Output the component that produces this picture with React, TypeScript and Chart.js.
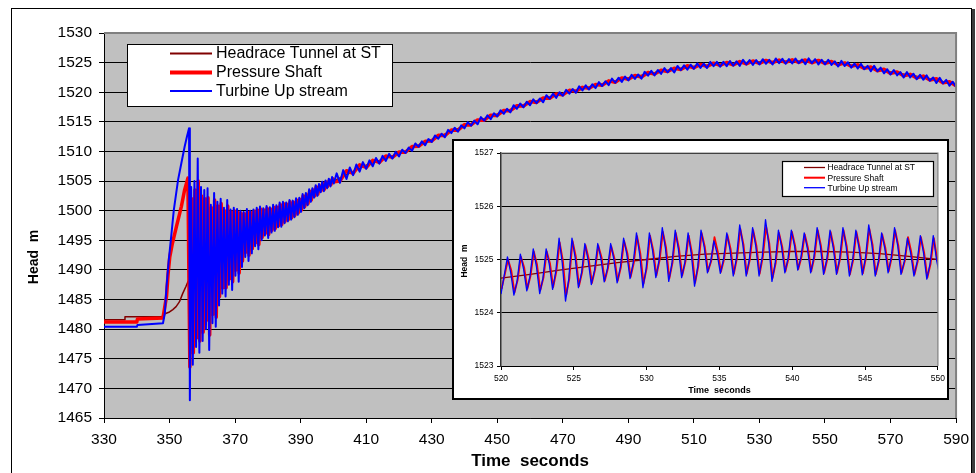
import React, { useEffect, useRef } from "react";
import { Chart, registerables } from "chart.js";

Chart.register(...registerables);

const FONT = "'Liberation Sans', Arial, Helvetica, sans-serif";

/* ---------------- shared ---------------- */
const seriesLabels = ["Headrace Tunnel at ST", "Pressure Shaft", "Turbine Up stream"];
const seriesColors = ["#800000", "#FF0000", "#0000FF"];
const xTitleText = "Time  seconds";
const yTitleText = "Head  m";

/* ---------------- main chart : 330 – 590 s ---------------- */
const mainTimeRange = [330, 590];
const mainTimeTickStep = 20;
const mainHeadRange = [1465, 1530];
const mainHeadTickStep = 5;

const headraceTime = [330, 336.2, 336.4, 347.6, 348.6, 350, 351, 352, 353, 354, 355, 355.6, 358, 360, 365, 370, 375, 380, 385, 390, 395, 400, 410, 420, 430, 440, 450, 460, 470, 480, 490, 500, 510, 520, 530, 540, 550, 560, 570, 580, 590];
const headraceHead = [1481.6, 1481.6, 1482.1, 1482.1, 1482.6, 1482.9, 1483.3, 1483.8, 1484.6, 1486.0, 1487.2, 1488.0, 1489.5, 1490.5, 1492.5, 1494, 1496, 1498, 1499.8, 1501.2, 1503.3, 1505.0, 1507.7, 1509.6, 1512.0, 1514.3, 1516.3, 1518.2, 1519.8, 1521.1, 1522.4, 1523.5, 1524.35, 1524.8, 1525.1, 1525.25, 1525.1, 1524.4, 1523.4, 1522.5, 1521.3];

const shaftRiseTime = [330, 340, 340.2, 348.0, 349.07, 349.57, 350.07, 350.88, 352.1, 353.6, 354.6, 355.6, 356.2];
const shaftRiseHead = [1481.2, 1481.2, 1481.7, 1481.9, 1485.5, 1489.4, 1492.2, 1494.5, 1497.3, 1500.7, 1503.5, 1505.5, 1473.6];

const turbineRiseTime = [330, 340, 340.2, 348.0, 348.55, 349.07, 349.77, 350.38, 351.3, 352.6, 353.6, 354.6, 355.3, 355.95, 356.2];
const turbineRiseHead = [1480.4, 1480.4, 1480.7, 1481.0, 1482.65, 1487.1, 1491.7, 1495.0, 1500.1, 1505.2, 1508.0, 1510.8, 1512.5, 1513.9, 1468.0];

// water-hammer oscillation after closure, sampled every 0.5 s
const surgeStep = 0.5;
const turbineSurgeStart = 356.6;
const turbineSurge = [
  1504, 1474, 1505, 1477, 1508.8, 1476, 1504, 1478, 1503.5, 1480,
  1503.8, 1476.5, 1501, 1481, 1503, 1480.4, 1501.5, 1484, 1502, 1486,
  1500.5, 1485.5, 1501.8, 1487.5, 1500.2, 1486.6, 1500.5, 1489, 1500.3, 1488,
  1500, 1490.5, 1499.8, 1492.2, 1500.3, 1491.5, 1500, 1492.8, 1500.2, 1494,
  1500.5, 1493.5, 1500.7, 1495, 1500.4, 1495.8, 1500.8, 1495.4, 1500.6, 1496.3,
  1501, 1496.6, 1500.9, 1497.2, 1501.4, 1497.3, 1501.5, 1497.9, 1501.4, 1498.2,
  1501.8, 1498.5, 1501.7, 1498.9, 1502.1, 1499.3, 1502.2, 1499.8, 1502.8, 1500.4,
  1503, 1500.9, 1503.6, 1501.5, 1503.8, 1502.2, 1504.3, 1502.5, 1504.5, 1503.1,
  1504.9, 1503.3, 1505.1, 1503.8, 1505.4, 1504.1, 1505.7, 1504.6,
];
const shaftSurgeStart = 356.75;
const shaftSurge = [
  1502, 1476, 1503.5, 1478.5, 1505, 1478, 1502.5, 1479.5, 1502, 1481.5,
  1502.2, 1479, 1500.5, 1482.5, 1501.8, 1482, 1500.8, 1485.5, 1501.2, 1487,
  1500, 1487, 1500.8, 1488.5, 1499.8, 1488, 1500, 1490, 1499.8, 1489.5,
  1499.6, 1491.5, 1499.5, 1493, 1499.8, 1492.5, 1499.7, 1493.6, 1499.9, 1494.6,
  1500.1, 1494.3, 1500.3, 1495.5, 1500.1, 1496.2, 1500.4, 1496, 1500.3, 1496.7,
  1500.6, 1497, 1500.6, 1497.5, 1501, 1497.7, 1501.2, 1498.2, 1501.1, 1498.5,
  1501.5, 1498.8, 1501.4, 1499.2, 1501.8, 1499.6, 1501.9, 1500.1, 1502.5, 1500.7,
  1502.7, 1501.2, 1503.3, 1501.8, 1503.5, 1502.5, 1504, 1502.8, 1504.2, 1503.4,
  1504.6, 1503.6, 1504.8, 1504.1, 1505.1, 1504.4, 1505.4, 1504.9,
];

// slow mass oscillation: turbine sampled every 1 s from 401 s
const turbineTailStart = 401;
const turbineTailStep = 1;
const turbineTail = [
  1506.3, 1504.7, 1506.85, 1505.35, 1507.3, 1506.0, 1507.8, 1506.6, 1508.2, 1507.05,
  1508.5, 1507.5, 1508.9, 1507.95, 1509.25, 1508.4, 1509.6, 1508.8, 1509.95, 1509.15,
  1510.3, 1509.75, 1510.65, 1510.1, 1511.35, 1510.8, 1511.7, 1511.05, 1512.1, 1511.6,
  1512.7, 1512.15, 1513.0, 1512.4, 1513.65, 1513.1, 1514.0, 1513.35, 1514.4, 1513.9,
  1514.95, 1514.35, 1515.2, 1514.6, 1515.8, 1515.2, 1516.1, 1515.45, 1516.45, 1515.9,
  1516.95, 1516.35, 1517.2, 1516.6, 1517.8, 1517.2, 1518.1, 1517.45, 1518.4, 1517.8,
  1518.8, 1518.15, 1518.95, 1518.3, 1519.5, 1518.9, 1519.75, 1519.05, 1520.0, 1519.4,
  1520.4, 1519.75, 1520.55, 1519.9, 1521.0, 1520.3, 1521.15, 1520.45, 1521.35, 1520.7,
  1521.7, 1521.05, 1521.85, 1521.2, 1522.3, 1521.6, 1522.45, 1521.75, 1522.65, 1522.0,
  1522.95, 1522.25, 1523.0, 1522.3, 1523.45, 1522.8, 1523.6, 1522.85, 1523.75, 1523.1,
  1524.07, 1523.37, 1524.08, 1523.33, 1524.44, 1523.74, 1524.55, 1523.8, 1524.65, 1523.95,
  1524.86, 1524.11, 1524.82, 1524.08, 1525.13, 1524.39, 1525.12, 1524.3, 1525.13, 1524.4,
  1525.28, 1524.5, 1525.2, 1524.45, 1525.48, 1524.7, 1525.43, 1524.6, 1525.43, 1524.7,
  1525.58, 1524.8, 1525.48, 1524.7, 1525.7, 1524.9, 1525.63, 1524.8, 1525.6, 1524.85,
  1525.7, 1524.9, 1525.53, 1524.72, 1525.71, 1524.9, 1525.58, 1524.7, 1525.48, 1524.7,
  1525.48, 1524.62, 1525.21, 1524.35, 1525.29, 1524.43, 1525.07, 1524.16, 1524.85, 1524.0,
  1524.78, 1523.9, 1524.45, 1523.55, 1524.45, 1523.55, 1524.15, 1523.2, 1523.88, 1523.0,
  1523.75, 1522.85, 1523.4, 1522.5, 1523.4, 1522.5, 1523.13, 1522.2, 1522.93, 1522.1,
  1522.85, 1521.95, 1522.48, 1521.55, 1522.43, 1521.5, 1522.08, 1521.1, 1521.78, 1520.9,
];
// pressure shaft sampled every 2 s from 402 s
const shaftTailStart = 402;
const shaftTailStep = 2;
const shaftTail = [
  1505.0, 1506.75, 1506.3, 1507.75, 1507.3, 1508.5, 1508.15, 1509.25, 1509.0, 1509.9,
  1509.88, 1510.82, 1510.88, 1511.72, 1511.78, 1512.72, 1512.68, 1513.62, 1513.58, 1514.52,
  1514.48, 1515.32, 1515.28, 1516.12, 1516.08, 1516.92, 1516.88, 1517.72, 1517.68, 1518.42,
  1518.28, 1519.02, 1518.98, 1519.72, 1519.58, 1520.32, 1520.18, 1520.82, 1520.68, 1521.32,
  1521.18, 1521.92, 1521.68, 1522.42, 1522.18, 1522.82, 1522.58, 1523.32, 1523.08, 1523.72,
  1523.5, 1524.05, 1523.82, 1524.47, 1524.13, 1524.68, 1524.36, 1524.91, 1524.53, 1525.02,
  1524.63, 1525.17, 1524.78, 1525.27, 1524.88, 1525.37, 1524.98, 1525.42, 1525.03, 1525.47,
  1525.03, 1525.44, 1524.98, 1525.37, 1524.88, 1525.19, 1524.63, 1524.95, 1524.39, 1524.62,
  1524.03, 1524.27, 1523.63, 1523.87, 1523.18, 1523.42, 1522.78, 1523.02, 1522.43, 1522.72,
  1522.08, 1522.27, 1521.58, 1521.77, 1521.08,
];

/* ---------------- inset chart : 520 – 550 s ---------------- */
const insetTimeRange = [520, 550];
const insetTimeTickStep = 5;
const insetHeadRange = [1523, 1527];
const insetHeadTickStep = 1;

const insetHeadraceTime = [520, 522, 524, 526, 528, 530, 532, 534, 536, 538, 540, 542, 544, 546, 548, 550];
const insetHeadraceHead = [1524.65, 1524.72, 1524.8, 1524.87, 1524.94, 1525.0, 1525.06, 1525.1, 1525.12, 1525.14, 1525.15, 1525.15, 1525.14, 1525.11, 1525.06, 1525.0];

const insetStep = 0.2215;
const insetTurbineStart = 520;
const insetTurbine = [
  1524.35, 1524.70,
  1525.05, 1524.76, 1524.33, 1524.60, 1525.10, 1524.82, 1524.41, 1524.69,
  1525.20, 1524.86, 1524.36, 1524.65, 1525.20, 1524.90, 1524.44, 1524.78,
  1525.40, 1524.93, 1524.22, 1524.63, 1525.40, 1525.03, 1524.47, 1524.76,
  1525.30, 1524.99, 1524.53, 1524.80, 1525.30, 1525.01, 1524.58, 1524.83,
  1525.30, 1525.00, 1524.56, 1524.85, 1525.40, 1525.10, 1524.64, 1524.94,
  1525.50, 1525.09, 1524.47, 1524.83, 1525.50, 1525.16, 1524.66, 1524.99,
  1525.60, 1525.20, 1524.59, 1524.93, 1525.55, 1525.19, 1524.66, 1524.95,
  1525.50, 1525.10, 1524.50, 1524.87, 1525.55, 1525.23, 1524.75, 1524.96,
  1525.35, 1525.11, 1524.74, 1525.01, 1525.50, 1525.18, 1524.69, 1525.03,
  1525.65, 1525.27, 1524.69, 1525.01, 1525.60, 1525.24, 1524.69, 1525.06,
  1525.75, 1525.29, 1524.59, 1524.93, 1525.55, 1525.23, 1524.75, 1525.03,
  1525.55, 1525.25, 1524.80, 1525.05, 1525.50, 1525.20, 1524.75, 1525.05,
  1525.60, 1525.25, 1524.72, 1525.01, 1525.55, 1525.22, 1524.72, 1525.03,
  1525.60, 1525.24, 1524.69, 1524.99, 1525.55, 1525.21, 1524.71, 1525.04,
  1525.65, 1525.27, 1524.69, 1524.97, 1525.50, 1525.20, 1524.75, 1525.05,
  1525.60, 1525.25, 1524.72, 1524.96, 1525.40, 1525.12, 1524.69, 1524.96,
  1525.45, 1525.12, 1524.63, 1524.92, 1525.45, 1525.00, 1524.70,
];
const insetShaftStart = 520.04;
const insetShaft = [
  1524.45, 1524.72,
  1525.00, 1524.80, 1524.38, 1524.62, 1525.05, 1524.85, 1524.45, 1524.70,
  1525.15, 1524.90, 1524.42, 1524.66, 1525.15, 1524.93, 1524.48, 1524.78,
  1525.32, 1524.98, 1524.32, 1524.64, 1525.35, 1525.06, 1524.50, 1524.77,
  1525.27, 1525.02, 1524.56, 1524.81, 1525.26, 1525.04, 1524.60, 1524.84,
  1525.25, 1525.02, 1524.60, 1524.86, 1525.35, 1525.12, 1524.67, 1524.94,
  1525.44, 1525.12, 1524.55, 1524.84, 1525.45, 1525.18, 1524.70, 1524.99,
  1525.52, 1525.22, 1524.64, 1524.94, 1525.50, 1525.21, 1524.70, 1524.96,
  1525.45, 1525.13, 1524.56, 1524.88, 1525.50, 1525.24, 1524.78, 1524.97,
  1525.42, 1525.15, 1524.77, 1525.01, 1525.46, 1525.20, 1524.73, 1525.03,
  1525.58, 1525.28, 1524.73, 1525.01, 1525.55, 1525.26, 1524.73, 1525.05,
  1525.62, 1525.30, 1524.65, 1524.94, 1525.50, 1525.24, 1524.78, 1525.03,
  1525.52, 1525.26, 1524.82, 1525.05, 1525.47, 1525.21, 1524.78, 1525.05,
  1525.55, 1525.26, 1524.75, 1525.01, 1525.52, 1525.23, 1524.75, 1525.03,
  1525.55, 1525.25, 1524.72, 1524.99, 1525.52, 1525.22, 1524.74, 1525.04,
  1525.58, 1525.28, 1524.72, 1524.98, 1525.47, 1525.21, 1524.78, 1525.05,
  1525.55, 1525.26, 1524.75, 1524.97, 1525.42, 1525.14, 1524.72, 1524.96,
  1525.42, 1525.13, 1524.66, 1524.92, 1525.40, 1525.02, 1524.78,
];

/* ---------------- helpers ---------------- */
type Pt = { x: number; y: number };
const pairs = (ts: number[], hs: number[]): Pt[] => ts.map((x, i) => ({ x, y: hs[i] }));
const sampled = (t0: number, dt: number, hs: number[]): Pt[] =>
  hs.map((y, i) => ({ x: Math.round((t0 + i * dt) * 10000) / 10000, y }));

type DecorSpec = {
  name: string;
  plotBorderWidth: number;
  frame: (ctx: CanvasRenderingContext2D, w: number, h: number) => void;
  legend: {
    x: number; y: number; w: number; h: number; border: number;
    x0: number; x1: number; textX: number; rows: number[]; fontSize: number; lineWidths: number[];
  };
  xTitle: { size: number; y: number };
  yTitle: { size: number; x: number; y: number };
};

function decorPlugin(spec: DecorSpec) {
  return {
    id: "decor_" + spec.name,
    beforeDraw(chart: any) {
      const { ctx, chartArea: a, width, height } = chart;
      ctx.save();
      ctx.fillStyle = "#FFFFFF";
      ctx.fillRect(0, 0, width, height);
      ctx.fillStyle = "#C0C0C0";
      ctx.fillRect(a.left, a.top, a.right - a.left, a.bottom - a.top);
      ctx.restore();
    },
    afterDraw(chart: any) {
      const { ctx, chartArea: a, width, height } = chart;
      ctx.save();
      ctx.strokeStyle = "#808080";
      ctx.lineWidth = spec.plotBorderWidth;
      ctx.beginPath();
      ctx.moveTo(a.left, a.top);
      ctx.lineTo(a.right, a.top);
      ctx.lineTo(a.right, a.bottom);
      ctx.stroke();
      spec.frame(ctx, width, height);
      const L = spec.legend;
      ctx.fillStyle = "#FFFFFF";
      ctx.fillRect(L.x, L.y, L.w, L.h);
      ctx.strokeStyle = "#000000";
      ctx.lineWidth = L.border;
      ctx.strokeRect(L.x, L.y, L.w, L.h);
      ctx.font = `${L.fontSize}px ${FONT}`;
      ctx.textBaseline = "middle";
      ctx.textAlign = "left";
      chart.data.datasets.forEach((ds: any, i: number) => {
        const y = L.rows[i];
        ctx.strokeStyle = ds.borderColor;
        ctx.lineWidth = L.lineWidths[i];
        ctx.beginPath();
        ctx.moveTo(L.x0, y);
        ctx.lineTo(L.x1, y);
        ctx.stroke();
        ctx.fillStyle = "#000000";
        ctx.fillText(ds.label, L.textX, y + 0.5);
      });
      ctx.fillStyle = "#000000";
      ctx.textAlign = "center";
      ctx.textBaseline = "middle";
      ctx.font = `bold ${spec.xTitle.size}px ${FONT}`;
      ctx.fillText(xTitleText, (a.left + a.right) / 2, spec.xTitle.y);
      ctx.font = `bold ${spec.yTitle.size}px ${FONT}`;
      ctx.translate(spec.yTitle.x, spec.yTitle.y);
      ctx.rotate(-Math.PI / 2);
      ctx.fillText(yTitleText, 0, 0);
      ctx.restore();
    },
  };
}

function buildChart(
  canvas: HTMLCanvasElement,
  datasets: Pt[][],
  widths: number[],
  ax: {
    xRange: number[]; xStep: number; yRange: number[]; yStep: number;
    fontSize: number; tickLen: number; xPad: number; yPad: number;
    yWidth: number; xHeight: number; padding: { top: number; right: number };
    yBorder: { color: string; width: number };
  },
  spec: DecorSpec
) {
  const tickFont = { family: FONT, size: ax.fontSize };
  const fmt = (v: any) => String(v);
  return new Chart(canvas, {
    type: "line",
    data: {
      datasets: datasets.map((d, i) => ({
        label: seriesLabels[i],
        data: d,
        borderColor: seriesColors[i],
        backgroundColor: seriesColors[i],
        borderWidth: widths[i],
        borderJoinStyle: "round",
        pointRadius: 0,
        fill: false,
        tension: 0,
        order: 3 - i,
      })),
    },
    options: {
      animation: false,
      responsive: false,
      maintainAspectRatio: false,
      devicePixelRatio: 1,
      events: [],
      layout: { padding: { left: 0, top: ax.padding.top, right: ax.padding.right, bottom: 0 } },
      plugins: { legend: { display: false }, tooltip: { enabled: false }, title: { display: false } },
      scales: {
        x: {
          type: "linear",
          min: ax.xRange[0],
          max: ax.xRange[1],
          afterFit: (s: any) => { s.height = ax.xHeight; },
          ticks: { stepSize: ax.xStep, autoSkip: false, maxRotation: 0, color: "#000", font: tickFont, padding: ax.xPad, callback: fmt },
          grid: { drawOnChartArea: false, drawTicks: true, tickLength: ax.tickLen, tickColor: "#000", color: "#000" },
          border: { display: true, color: "#000", width: 1 },
        },
        y: {
          type: "linear",
          min: ax.yRange[0],
          max: ax.yRange[1],
          afterFit: (s: any) => { s.width = ax.yWidth; },
          ticks: { stepSize: ax.yStep, autoSkip: false, color: "#000", font: tickFont, padding: ax.yPad, callback: fmt },
          grid: { color: "#000", lineWidth: 1, drawTicks: true, tickLength: ax.tickLen, tickColor: "#000" },
          border: { display: true, color: ax.yBorder.color, width: ax.yBorder.width },
        },
      },
    } as any,
    plugins: [decorPlugin(spec)],
  });
}

export default function App() {
  const mainRef = useRef<HTMLCanvasElement>(null);
  const insetRef = useRef<HTMLCanvasElement>(null);

  useEffect(() => {
    const mainData = [
      pairs(headraceTime, headraceHead),
      [...pairs(shaftRiseTime, shaftRiseHead), ...sampled(shaftSurgeStart, surgeStep, shaftSurge), ...sampled(shaftTailStart, shaftTailStep, shaftTail)],
      [...pairs(turbineRiseTime, turbineRiseHead), ...sampled(turbineSurgeStart, surgeStep, turbineSurge), ...sampled(turbineTailStart, turbineTailStep, turbineTail)],
    ];
    const main = buildChart(
      mainRef.current!,
      mainData,
      [1.5, 3.5, 2],
      {
        xRange: mainTimeRange, xStep: mainTimeTickStep, yRange: mainHeadRange, yStep: mainHeadTickStep,
        fontSize: 15.5, tickLen: 5, xPad: 7, yPad: 7, yWidth: 104, xHeight: 55,
        padding: { top: 33, right: 18 }, yBorder: { color: "#000", width: 1 },
      },
      {
        name: "main",
        plotBorderWidth: 2,
        frame: (ctx) => {
          ctx.strokeStyle = "#000";
          ctx.lineWidth = 1;
          ctx.strokeRect(11.5, 8.5, 960, 500);
          ctx.fillStyle = "#3c3c3c";
          ctx.fillRect(972, 9, 3, 470);
        },
        legend: {
          x: 127.5, y: 44.5, w: 265, h: 62, border: 1,
          x0: 170, x1: 212, textX: 216, rows: [53.5, 72.5, 91], fontSize: 16, lineWidths: [2, 4, 2],
        },
        xTitle: { size: 17, y: 461 },
        yTitle: { size: 14, x: 34, y: 257 },
      }
    );

    const insetData = [
      pairs(insetHeadraceTime, insetHeadraceHead),
      sampled(insetShaftStart, insetStep, insetShaft),
      sampled(insetTurbineStart, insetStep, insetTurbine),
    ];
    const inset = buildChart(
      insetRef.current!,
      insetData,
      [1.3, 1.8, 1.3],
      {
        xRange: insetTimeRange, xStep: insetTimeTickStep, yRange: insetHeadRange, yStep: insetHeadTickStep,
        fontSize: 8.5, tickLen: 4, xPad: 4, yPad: 3.5, yWidth: 49, xHeight: 34,
        padding: { top: 14, right: 8 }, yBorder: { color: "#333", width: 1.5 },
      },
      {
        name: "inset",
        plotBorderWidth: 1.2,
        frame: (ctx, w, h) => {
          ctx.strokeStyle = "#000";
          ctx.lineWidth = 2;
          ctx.strokeRect(1, 1, w - 2, h - 2);
        },
        legend: {
          x: 330.5, y: 22.5, w: 151, h: 35, border: 1.2,
          x0: 352, x1: 373, textX: 375.5, rows: [28.5, 38.7, 48.7], fontSize: 8.5, lineWidths: [1.3, 2, 1.3],
        },
        xTitle: { size: 9, y: 252 },
        yTitle: { size: 8.5, x: 13, y: 122 },
      }
    );

    return () => {
      main.destroy();
      inset.destroy();
    };
  }, []);

  return (
    <div style={{ position: "absolute", left: 0, top: 0, width: 976, height: 473, overflow: "hidden", background: "#fff" }}>
      <canvas ref={mainRef} width={976} height={473} style={{ position: "absolute", left: 0, top: 0, width: 976, height: 473 }} />
      <canvas ref={insetRef} width={497} height={261} style={{ position: "absolute", left: 452, top: 139, width: 497, height: 261 }} />
    </div>
  );
}
